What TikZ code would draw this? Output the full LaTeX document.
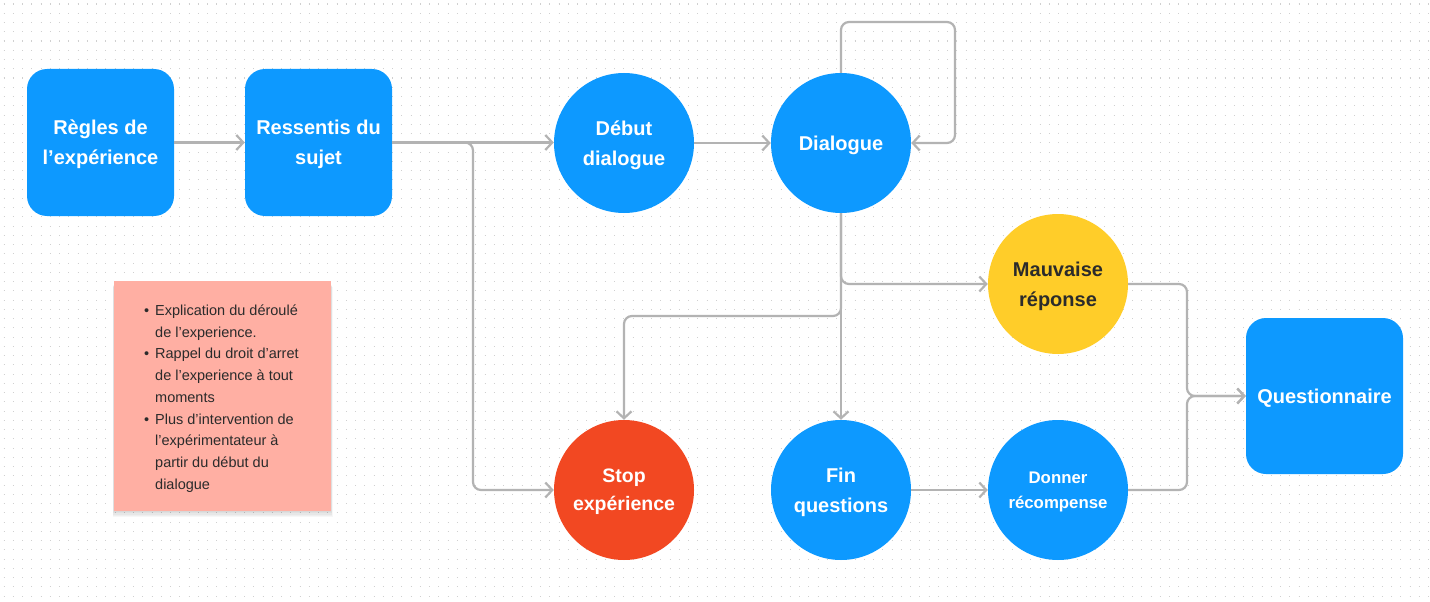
\documentclass[tikz,border=0pt]{standalone}
\usepackage{fontspec}
\setmainfont{Liberation Sans}
\usetikzlibrary{arrows.meta}
\definecolor{fblue}{HTML}{0D99FF}
\definecolor{fyellow}{HTML}{FFCD29}
\definecolor{fred}{HTML}{F24822}
\definecolor{fnote}{HTML}{FFAFA3}
\definecolor{fline}{HTML}{B3B3B3}
\definecolor{fdot}{HTML}{D0D0D0}
\definecolor{ftext}{HTML}{2B2B2B}
\begin{document}
\begin{tikzpicture}[x=1pt,y=-1pt,
  rbox/.style={draw=none,fill=fblue,rounded corners=20pt,minimum width=147pt,minimum height=147pt,
    text=white,align=center,inner sep=0pt,text depth=0pt,font=\bfseries\fontsize{20}{30}\selectfont},
  cnode/.style={circle,draw=none,fill=fblue,minimum size=140pt,inner sep=0pt,
    text=white,align=center,text depth=0pt,font=\bfseries\fontsize{20}{30}\selectfont},
  conn/.style={draw=fline,line width=2.2pt,rounded corners=8pt,
    -{Straight Barb[length=7pt,width=15pt,line width=2.2pt]}},
  notebox/.style={fill=fnote,draw=none,minimum width=217pt,minimum height=230pt,inner sep=0pt},
  notetext/.style={align=left,inner sep=0pt,text=ftext,font=\fontsize{14.5}{21.7}\selectfont},
  dotrow/.style={draw=fdot,line width=1.2pt,dash pattern=on 1.2pt off 8.05pt},
  shadowlayer/.style={fill=black,opacity=0.03,draw=none}
]
\useasboundingbox (0,0) rectangle (1430,602);
\fill[white] (0,0) rectangle (1430,602);
\foreach \j in {0,...,64} {\draw[dotrow] (3.5,4.1+\j*9.25) -- (1430,4.1+\j*9.25);}

% nodes
\node[rbox] (regles) at (100.5,142.5) {Règles de\\l’expérience};
\node[rbox] (ressentis) at (318.5,142.5) {Ressentis du\\sujet};
\node[cnode] (debut) at (624,143) {Début\\dialogue};
\node[cnode] (dialogue) at (841,143) {Dialogue};
\node[cnode,fill=fyellow,text=ftext] (mauvaise) at (1058,284) {Mauvaise\\réponse};
\node[cnode,fill=fred,font=\bfseries\fontsize{19.5}{28}\selectfont] (stop) at (624,490) {Stop\\expérience};
\node[cnode] (fin) at (841,490) {Fin\\questions};
\node[cnode,font=\bfseries\fontsize{16.8}{25}\selectfont] (donner) at (1058,490) {Donner\\récompense};
\node[rbox,minimum width=157pt,minimum height=156pt] (quest) at (1324.5,396) {Questionnaire};

% sticky note with soft shadow
\foreach \k in {1,...,5} {\fill[shadowlayer] (114-\k*0.3,284+\k*0.5) rectangle (331+\k*0.3,511+\k*1.2);}
\node[notebox] (note) at (222.5,396) {};
\node[notetext,anchor=west] (notetxt) at (155,398.5) {\llap{•\hspace{6pt}}Explication du déroulé\\de l’experience.\\\llap{•\hspace{6pt}}Rappel du droit d’arret\\de l’experience à tout\\moments\\\llap{•\hspace{6pt}}Plus d’intervention de\\l’expérimentateur à\\partir du début du\\dialogue};

% junction coordinates
\coordinate (j1) at (473,490);
\coordinate (l1) at (955,22);
\coordinate (j2) at (841,316);
\coordinate (j3) at (1187,396);

% connectors
\draw[conn] (regles) -- (ressentis);
\draw[conn] (ressentis.east) -- (ressentis.east -| debut.west);
\draw[conn] (ressentis.east) -| (j1) -- (stop.west);
\draw[conn] (debut) -- (dialogue);
\draw[conn] (dialogue.north) |- (l1) |- (dialogue.east);
\draw[conn] (dialogue.south) |- (mauvaise.west);
\draw[conn] (dialogue.south) -- (j2) -| (stop.north);
\draw[conn] (dialogue.south) -- (fin.north);
\draw[conn] (fin) -- (donner);
\draw[conn] (mauvaise.east) -| (j3) -- (quest.west);
\draw[conn] (donner.east) -| (j3) -- (quest.west);
\end{tikzpicture}
\end{document}
